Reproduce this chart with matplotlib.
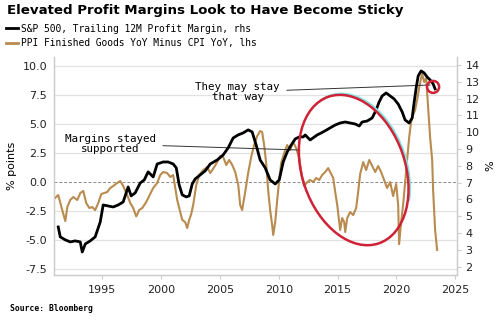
import matplotlib
matplotlib.use("Agg")
import matplotlib.pyplot as plt
import matplotlib.transforms as mtransforms
from matplotlib.patches import Ellipse, Arc
from matplotlib.lines import Line2D

# S&P 500 trailing 12M profit margin (%), right axis
margin_years = [1991.26, 1991.43, 1991.86, 1992.28, 1992.7, 1993.13, 1993.3, 1993.56, 1993.98,
                1994.4, 1994.83, 1995.08, 1995.5, 1995.93, 1996.36, 1996.78, 1997.2, 1997.46,
                1997.8, 1998.23, 1998.57, 1998.9, 1999.33, 1999.67, 2000.18, 2000.6, 2001.03,
                2001.29, 2001.54, 2001.8, 2002.14, 2002.39, 2002.65, 2002.9, 2003.33, 2003.75,
                2004.18, 2004.77, 2005.28, 2005.7, 2006.13, 2006.55, 2006.98, 2007.4, 2007.74,
                2008.08, 2008.42, 2008.85, 2009.27, 2009.7, 2010.04, 2010.38, 2010.72, 2011.06,
                2011.4, 2011.74, 2012.08, 2012.25, 2012.67, 2013.27, 2013.78, 2014.37, 2014.8,
                2015.22, 2015.65, 2016.07, 2016.5, 2016.84, 2017.09, 2017.52, 2017.94, 2018.28,
                2018.53, 2018.79, 2019.13, 2019.47, 2019.81, 2020.15, 2020.49, 2020.74, 2021.08,
                2021.34, 2021.5, 2021.68, 2021.85, 2022.1, 2022.36, 2022.61, 2022.87, 2023.12,
                2023.29]
margin = [4.36, 3.77, 3.59, 3.47, 3.53, 3.47, 2.87, 3.35, 3.53,
          3.77, 4.66, 5.67, 5.61, 5.55, 5.67, 5.85, 6.74, 6.21,
          6.39, 6.98, 7.16, 7.64, 7.34, 8.11, 8.23, 8.23, 8.11,
          7.88, 6.86, 6.27, 6.15, 6.21, 6.92, 7.22, 7.46, 7.70,
          8.11, 8.35, 8.65, 9.07, 9.66, 9.84, 9.96, 10.14, 10.02,
          9.24, 8.35, 7.88, 7.16, 6.92, 7.16, 8.23, 8.83, 9.24,
          9.60, 9.72, 9.72, 9.84, 9.54, 9.84, 10.02, 10.26, 10.43,
          10.55, 10.61, 10.55, 10.49, 10.37, 10.61, 10.67, 10.85, 11.33,
          11.80, 12.16, 12.34, 12.16, 11.98, 11.68, 11.21, 10.73, 10.55,
          10.85, 11.74, 12.64, 13.35, 13.65, 13.53, 13.29, 13.11, 12.88,
          12.58]

# PPI finished goods YoY minus CPI YoY (pct points), left axis
spread_years = [1991.0, 1991.26, 1991.6, 1991.86, 1992.03, 1992.28, 1992.54, 1992.88, 1993.13,
                1993.39, 1993.64, 1993.9, 1994.15, 1994.4, 1994.66, 1994.92, 1995.17, 1995.42,
                1995.68, 1995.93, 1996.27, 1996.53, 1996.78, 1997.12, 1997.38, 1997.63, 1997.89,
                1998.14, 1998.4, 1998.74, 1999.08, 1999.33, 1999.67, 1999.93, 2000.18, 2000.52,
                2000.78, 2001.03, 2001.37, 2001.63, 2001.8, 2002.05, 2002.22, 2002.39, 2002.56,
                2002.73, 2002.99, 2003.24, 2003.58, 2003.92, 2004.18, 2004.52, 2004.77, 2005.03,
                2005.28, 2005.54, 2005.79, 2006.05, 2006.3, 2006.56, 2006.72, 2006.89, 2007.15,
                2007.4, 2007.66, 2007.91, 2008.17, 2008.42, 2008.59, 2008.76, 2008.93, 2009.1,
                2009.27, 2009.44, 2009.53, 2009.7, 2009.87, 2010.04, 2010.21, 2010.46, 2010.72,
                2010.97, 2011.23, 2011.48, 2011.74, 2011.99, 2012.16, 2012.42, 2012.67, 2012.93,
                2013.18, 2013.44, 2013.69, 2013.95, 2014.2, 2014.37, 2014.63, 2014.8, 2014.97,
                2015.14, 2015.22, 2015.39, 2015.56, 2015.65, 2015.82, 2016.07, 2016.33, 2016.58,
                2016.75, 2016.92, 2017.18, 2017.43, 2017.69, 2017.94, 2018.2, 2018.45, 2018.7,
                2018.96, 2019.21, 2019.47, 2019.72, 2019.98, 2020.15, 2020.23, 2020.4, 2020.57,
                2020.74, 2020.91, 2021.08, 2021.25, 2021.42, 2021.59, 2021.76, 2021.93, 2022.1,
                2022.19, 2022.36, 2022.53, 2022.7, 2022.87, 2023.04, 2023.12, 2023.29, 2023.46]
spread = [-1.4, -1.15, -2.45, -3.4, -2.19, -1.58, -1.32, -1.58, -0.98,
          -0.80, -1.84, -2.27, -2.19, -2.45, -1.84, -1.06, -0.98, -0.89,
          -0.54, -0.37, -0.11, 0.06, -0.37, -1.15, -1.84, -2.27, -3.0,
          -2.45, -2.27, -1.75, -1.06, -0.54, -0.11, 0.58, 0.84, 0.75,
          0.41, 0.58, -1.58, -2.6, -3.3, -3.5, -4.0, -3.3, -2.8,
          -2.0, -0.29, 0.58, 1.01, 1.27, 0.75, 1.27, 1.70, 2.22,
          2.14, 1.44, 1.88, 1.44, 0.84, -0.29, -2.0, -2.45, -0.89,
          0.75, 2.14, 3.17, 3.95, 4.38, 4.30, 3.17, 1.62, -0.72,
          -2.45, -3.74, -4.6, -3.48, -1.58, 0.15, 1.62, 2.48, 3.17,
          2.74, 3.43, 2.91, 2.05, 0.32, -0.37, -0.03, 0.15, -0.03,
          0.32, 0.15, 0.58, 0.84, 1.18, 0.84, 0.32, -0.89, -2.0,
          -3.5, -4.17, -3.14, -3.48, -4.35, -3.14, -2.62, -2.88, -2.27,
          -0.89, 0.67, 1.70, 1.01, 1.88, 1.36, 0.84, 1.36, 0.84,
          0.15, -0.54, -0.03, -1.24, -0.20, -2.0, -5.4, -3.5, -2.0,
          -0.03, 1.88, 3.78, 5.16, 5.76, 6.2, 7.06, 8.1, 8.96,
          9.31, 8.62, 8.96, 6.37, 3.78, 1.88, -0.72, -4.17, -5.9]

left_ticks = [-7.5, -5.0, -2.5, 0.0, 2.5, 5.0, 7.5, 10.0]
right_ticks = [2, 3, 4, 5, 6, 7, 8, 9, 10, 11, 12, 13, 14]
year_ticks = [1995, 2000, 2005, 2010, 2015, 2020, 2025]

BROWN = "#b98b4f"
RED = "#cf2236"
GRID = "#e2e2e2"
SPINE = "#cccccc"
MONO = "DejaVu Sans Mono"

fig = plt.figure(figsize=(5, 3.22), dpi=100)
ax = fig.add_axes([0.108, 0.146, 0.806, 0.677])
ax2 = ax.twinx()

ax.plot(spread_years, spread, color=BROWN, linewidth=1.5, zorder=3)
ax2.plot(margin_years, margin, color="black", linewidth=2.0, zorder=3)

ax.set_xlim(1990.9, 2025.15)
ax.set_ylim(-8.06, 10.78)
ax2.set_ylim(1.50, 14.48)

ax.set_xticks(year_ticks)
ax.set_yticks(left_ticks)
ax.set_yticklabels([f"{t:.1f}" for t in left_ticks])
ax2.set_yticks(right_ticks)

for t in left_ticks:
    if t == 0:
        ax.axhline(t, color="#8a8a8a", linewidth=0.7, linestyle=(0, (3, 2)), zorder=1)
    else:
        ax.axhline(t, color=GRID, linewidth=0.9, zorder=1)

for a in (ax, ax2):
    for s in a.spines.values():
        s.set_color(SPINE)
        s.set_linewidth(0.9)
    a.spines["top"].set_visible(False)
ax.tick_params(axis="x", length=3, color=SPINE, labelsize=8, pad=4, colors="#222222")
ax.tick_params(axis="y", length=0, labelsize=8, pad=5, colors="#222222")
ax2.tick_params(axis="y", length=3, color=SPINE, labelsize=8, pad=3, colors="#222222")
ax.set_ylabel("% points", fontsize=8, labelpad=4)
ax2.set_ylabel("%", fontsize=8, rotation=90, labelpad=4)

# annotations
ax.annotate("Margins stayed\nsupported", xy=(2011.8, 2.74), xytext=(1995.7, 3.26),
            ha="center", va="center", fontsize=7.8, family=MONO, linespacing=1.0,
            arrowprops=dict(arrowstyle="-", color="#333333", linewidth=0.7,
                            shrinkA=3, shrinkB=0), zorder=5)
ax.annotate("They may stay\nthat way", xy=(2022.87, 8.36), xytext=(2006.5, 7.75),
            ha="center", va="center", fontsize=7.8, family=MONO, linespacing=1.0,
            arrowprops=dict(arrowstyle="-", color="#333333", linewidth=0.7,
                            shrinkA=3, shrinkB=0), zorder=5)

ell_at = fig.dpi_scale_trans + mtransforms.ScaledTranslation(2016.37, 1.01, ax.transData)
ax2.add_patch(Arc((0.015, 0.012), 1.03, 1.55, angle=19, theta1=-50, theta2=100,
                  edgecolor="#86e3e3", linewidth=1.5, transform=ell_at, zorder=4,
                  clip_on=False))
ax2.add_patch(Ellipse((0, 0), 1.03, 1.55, angle=19, fill=False, edgecolor=RED,
                      linewidth=1.8, transform=ell_at, zorder=5, clip_on=False))
circ_at = fig.dpi_scale_trans + mtransforms.ScaledTranslation(2023.12, 12.7, ax2.transData)
ax2.add_patch(Ellipse((0, 0), 0.12, 0.12, fill=False, edgecolor=RED, linewidth=1.8,
                      transform=circ_at, zorder=5, clip_on=False))

fig.text(0.014, 0.968, "Elevated Profit Margins Look to Have Become Sticky",
         fontsize=9.6, fontweight="bold", va="center", ha="left")
handles = [Line2D([], [], color="black", linewidth=2.0),
           Line2D([], [], color=BROWN, linewidth=2.0)]
fig.legend(handles, ["S&P 500, Trailing 12M Profit Margin, rhs",
                     "PPI Finished Goods YoY Minus CPI YoY, lhs"],
           loc="upper left", bbox_to_anchor=(0.012, 0.927), frameon=False,
           prop={"family": MONO, "size": 6.9}, handlelength=1.3, handletextpad=0.3,
           borderaxespad=0, borderpad=0, labelspacing=0.5)
fig.text(0.02, 0.043, "Source: Bloomberg", fontsize=5.8, fontweight="bold",
         family=MONO, va="center", ha="left")

fig.savefig("out.png", dpi=100)
